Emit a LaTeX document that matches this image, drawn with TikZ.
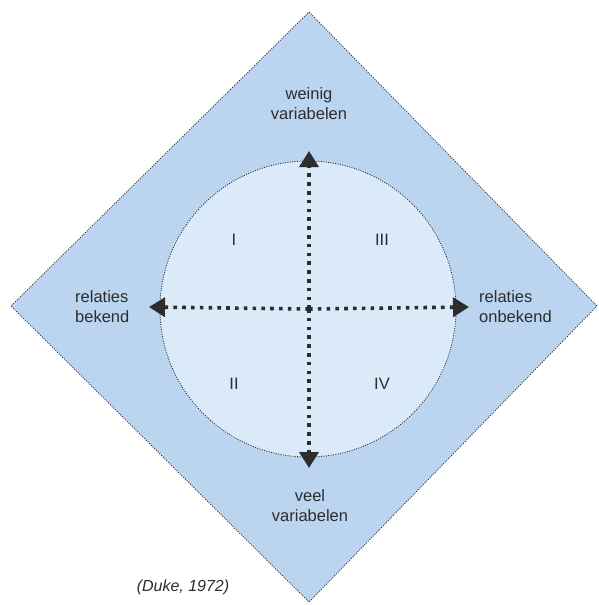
\documentclass[tikz,border=0pt]{standalone}
\usepackage{fontspec}
\setmainfont{Liberation Sans}
\usetikzlibrary{arrows.meta}
\definecolor{diamondblue}{RGB}{187,213,240}
\definecolor{circleblue}{RGB}{219,234,248}
\definecolor{inkgray}{RGB}{45,45,45}
\tikzset{
  outline/.style={draw=inkgray, line width=0.85pt, dash pattern=on 1pt off 1.4pt},
  axis/.style={draw=inkgray, line width=3.6pt, dash pattern=on 3.6pt off 5.2pt,
    -{Triangle[length=16pt,width=19pt,fill=inkgray]}},
  lbl/.style={font=\fontsize{16.5pt}{20pt}\selectfont, text=inkgray, inner sep=0pt},
  quad/.style={font=\fontsize{16.5pt}{20pt}\selectfont, text=inkgray, inner sep=0pt}
}
\begin{document}
\begin{tikzpicture}[x=1pt,y=-1pt]
\useasboundingbox (0,0) rectangle (598,605);
\fill[white] (0,0) rectangle (598,605);
% diamond
\path[fill=diamondblue, outline] (309,12) -- (597,306) -- (309,602) -- (11,306) -- cycle;
% circle
\path[fill=circleblue, outline] (308,309) circle[radius=148];
% axes
\coordinate (c) at (309,309);
\coordinate (tt) at (309,151);
\coordinate (tb) at (309,468);
\coordinate (tl) at (149,307);
\coordinate (tr) at (469,307);
\draw[axis] (c) -- (tt);
\draw[axis] (c) -- (tb);
\draw[axis] (c) -- (tl);
\draw[axis] (c) -- (tr);
% labels
\node[lbl, align=center] (top) at (309,104) {weinig\\variabelen};
\node[lbl, align=center] (bot) at (310,506) {veel\\variabelen};
\node[lbl, align=left, anchor=west] (lft) at (75,307) {relaties\\bekend};
\node[lbl, align=left, anchor=west] (rgt) at (479,307) {relaties\\onbekend};
% quadrants
\node[quad] (q1) at (234,240) {I};
\node[quad] (q3) at (382,240) {III};
\node[quad] (q2) at (234,384) {II};
\node[quad] (q4) at (382,384) {IV};
% source
\node[lbl, font=\fontsize{16pt}{20pt}\selectfont\itshape] (src) at (183,587) {(Duke, 1972)};
\end{tikzpicture}
\end{document}
